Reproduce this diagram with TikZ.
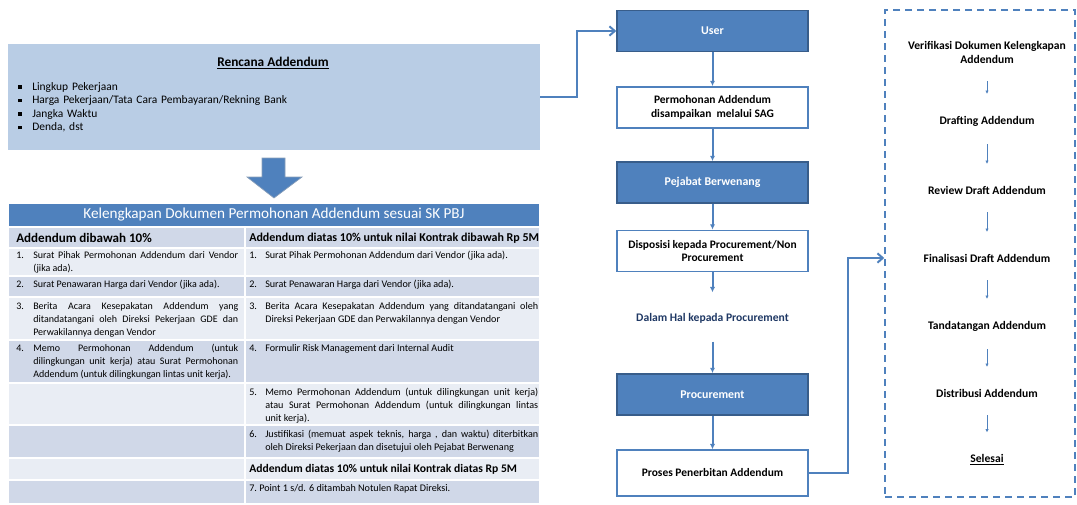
\documentclass[tikz,border=0pt]{standalone}
\usepackage{fontspec}
\setmainfont{Carlito}
\usetikzlibrary{arrows.meta,positioning}
\definecolor{accent}{RGB}{79,129,189}
\definecolor{darkedge}{RGB}{56,93,138}
\definecolor{rencfill}{RGB}{185,205,229}
\definecolor{bandD}{RGB}{208,216,232}
\definecolor{bandL}{RGB}{233,237,244}
\definecolor{navy}{RGB}{31,56,100}
\newcommand{\butir}[3]{\hangindent=#1\hangafter=1\noindent\makebox[#1][l]{#2}#3\par}
\newcommand{\bul}{\makebox[10.5pt][l]{\rule[0.25ex]{2.6pt}{2.6pt}}}

\begin{document}
\begin{tikzpicture}[x=0.75pt,y=-0.75pt,
    darkbox/.style={draw=darkedge,fill=accent,line width=1.1pt,minimum width=143.25pt,
        minimum height=31pt,text=white,font=\fontsize{8.9}{10.5}\selectfont\bfseries},
    whitebox/.style={draw=accent,fill=white,line width=1.1pt,minimum width=143.25pt,
        minimum height=31pt,align=center,font=\fontsize{8.6}{10.2}\selectfont\bfseries},
    flow/.style={draw=accent,line width=1.5pt,-{Latex[length=4pt,width=4pt]}},
    elbow/.style={draw=accent,line width=1.5pt,-{Straight Barb[length=4pt,width=7pt]}},
    langkah/.style={align=center,font=\fontsize{8.7}{10.5}\selectfont\bfseries},
    tipis/.style={draw=accent,line width=0.6pt,-{Latex[length=2.5pt,width=2.5pt]},
        shorten <=10pt,shorten >=13pt},
    sel/.style={draw=white,line width=1.2pt},
    isikiri/.style={anchor=base west,inner sep=0pt,align=justify,text width=166.5pt,
        font=\fontsize{7.5}{9.75}\selectfont},
    isikanan/.style={anchor=base west,inner sep=0pt,align=justify,text width=216.75pt,
        font=\fontsize{7.6}{9.75}\selectfont},
    subjudul/.style={anchor=west,inner sep=0pt,font=\fontsize{9}{10.5}\selectfont\bfseries},
]
\useasboundingbox (0,0) rectangle (1077,504);

% rencana addendum
\node[fill=rencfill,minimum width=399pt,minimum height=79.5pt] (rencana) at (274,97) {};
\node[font=\fontsize{10}{12}\selectfont\bfseries] (judul) at (273,63) {\underline{Rencana Addendum}};
\node[anchor=base west,inner sep=0pt,align=left,text width=300pt,font=\fontsize{8.6}{10.2}\selectfont] (daftar) at (18,90)
    {\bul Lingkup Pekerjaan\\ \bul Harga Pekerjaan/Tata Cara Pembayaran/Rekning Bank\\
     \bul Jangka Waktu\\ \bul Denda, dst};
\filldraw[draw=darkedge!60,fill=accent,line width=0.5pt] (262,158) -- (285,158) -- (285,177)
    -- (302,177) -- (274,198) -- (247,177) -- (262,177) -- cycle;

% tabel kelengkapan
\filldraw[sel,fill=accent] (8,203) rectangle (540,227);
\foreach \ya/\yb/\warna in {227/248/bandD, 248/276/bandL, 276/297/bandD, 297/340/bandL,
    340/383/bandD, 383/425/bandL, 425/458/bandD, 458/480/bandL, 480/504/bandD}
  {\filldraw[sel,fill=\warna] (8,\ya) rectangle (245,\yb);
   \filldraw[sel,fill=\warna] (245,\ya) rectangle (540,\yb);}
\node[text=white,font=\fontsize{11.4}{13}\selectfont] (kepala) at (274,215)
    {Kelengkapan Dokumen Permohonan Addendum sesuai SK PBJ};
\node[subjudul,font=\fontsize{9.8}{11}\selectfont\bfseries] (sub1) at (16,238) {Addendum dibawah 10\%};
\node[subjudul] (sub2) at (249,238) {Addendum diatas 10\% untuk nilai Kontrak dibawah Rp 5M};
\node[isikiri] (kiri1) at (16,258) {\butir{12.75pt}{1.}{Surat Pihak Permohonan Addendum dari Vendor\linebreak (jika ada).}};
\node[isikanan] (kanan1) at (249,258) {\butir{12pt}{1.}{Surat Pihak Permohonan Addendum dari Vendor (jika ada).}};
\node[isikiri] (kiri2) at (16,287) {\butir{12.75pt}{2.}{Surat Penawaran Harga dari Vendor (jika ada).}};
\node[isikanan] (kanan2) at (249,287) {\butir{12pt}{2.}{Surat Penawaran Harga dari Vendor (jika ada).}};
\node[isikiri] (kiri3) at (16,309) {\butir{12.75pt}{3.}{Berita Acara Kesepakatan Addendum yang\linebreak
    ditandatangani oleh Direksi Pekerjaan GDE dan\linebreak Perwakilannya dengan Vendor}};
\node[isikanan] (kanan3) at (249,309) {\butir{12pt}{3.}{Berita Acara Kesepakatan Addendum yang ditandatangani oleh\linebreak
    Direksi Pekerjaan GDE dan Perwakilannya dengan Vendor}};
\node[isikiri] (kiri4) at (16,351) {\butir{12.75pt}{4.}{Memo Permohonan Addendum (untuk\linebreak
    dilingkungan unit kerja) atau Surat Permohonan\linebreak Addendum (untuk dilingkungan lintas unit kerja).}};
\node[isikanan] (kanan4) at (249,351) {\butir{12pt}{4.}{Formulir Risk Management dari Internal Audit}};
\node[isikanan] (kanan5) at (249,395) {\butir{12pt}{5.}{Memo Permohonan Addendum (untuk dilingkungan unit kerja)\linebreak
    atau Surat Permohonan Addendum (untuk dilingkungan lintas\linebreak unit kerja).}};
\node[isikanan] (kanan6) at (249,437) {\butir{12pt}{6.}{Justifikasi (memuat aspek teknis, harga , dan waktu) diterbitkan\linebreak
    oleh Direksi Pekerjaan dan disetujui oleh Pejabat Berwenang}};
\node[subjudul,font=\fontsize{8.7}{10.5}\selectfont\bfseries] (sub3) at (249,469) {Addendum diatas 10\% untuk nilai Kontrak diatas Rp 5M};
\node[isikanan] (kanan7) at (249,491) {\butir{7.5pt}{7.}{Point 1 s/d. 6 ditambah Notulen Rapat Direksi.}};

% alur tengah
\node[darkbox] (user) at (712.5,31) {User};
\node[whitebox] (perm) at (712.5,107.5) {Permohonan Addendum\\disampaikan\ \ melalui SAG};
\node[darkbox] (pejabat) at (712.5,182.5) {Pejabat Berwenang};
\node[whitebox] (disp) at (712.5,251) {Disposisi kepada Procurement/Non\\Procurement};
\node[text=navy,font=\fontsize{8.7}{10.5}\selectfont\bfseries] (dalam) at (712.5,318) {Dalam Hal kepada Procurement};
\node[darkbox] (proc) at (712.5,394.5) {Procurement};
\node[whitebox,minimum height=34.5pt] (proses) at (712.5,473) {Proses Penerbitan Addendum};
\draw[flow] (user) -- (perm);
\draw[flow] (perm) -- (pejabat);
\draw[flow] (pejabat) -- (disp);
\draw[flow,shorten >=12pt] (disp) -- (dalam);
\draw[flow,shorten <=10.5pt] (dalam) -- (proc);
\draw[flow] (proc) -- (proses);
\draw[elbow] (rencana.east) -- ++(37,0) |- (user.west);

% langkah procurement
\node[draw=accent,dash pattern=on 5pt off 4pt,line width=1.1pt,minimum width=142.5pt,
    minimum height=365.25pt,inner sep=0pt] (kotak) at (980,253.5) {};
\node[langkah] (verif) at (987,52) {Verifikasi Dokumen Kelengkapan\\Addendum};
\node[langkah] (draft) at (987,121) {Drafting Addendum};
\node[langkah] (review) at (987,190) {Review Draft Addendum};
\node[langkah] (final) at (987,258) {Finalisasi Draft Addendum};
\node[langkah] (tanda) at (987,326) {Tandatangan Addendum};
\node[langkah] (distri) at (987,393) {Distribusi Addendum};
\node[langkah] (selesai) at (987,460) {\underline{Selesai}};
\draw[tipis] (verif) -- (draft);
\draw[tipis] (draft) -- (review);
\draw[tipis] (review) -- (final);
\draw[tipis] (final) -- (tanda);
\draw[tipis] (tanda) -- (distri);
\draw[tipis] (distri) -- (selesai);
\draw[elbow] (proses.east) -- ++(39,0) |- (kotak.west |- final);
\end{tikzpicture}
\end{document}
